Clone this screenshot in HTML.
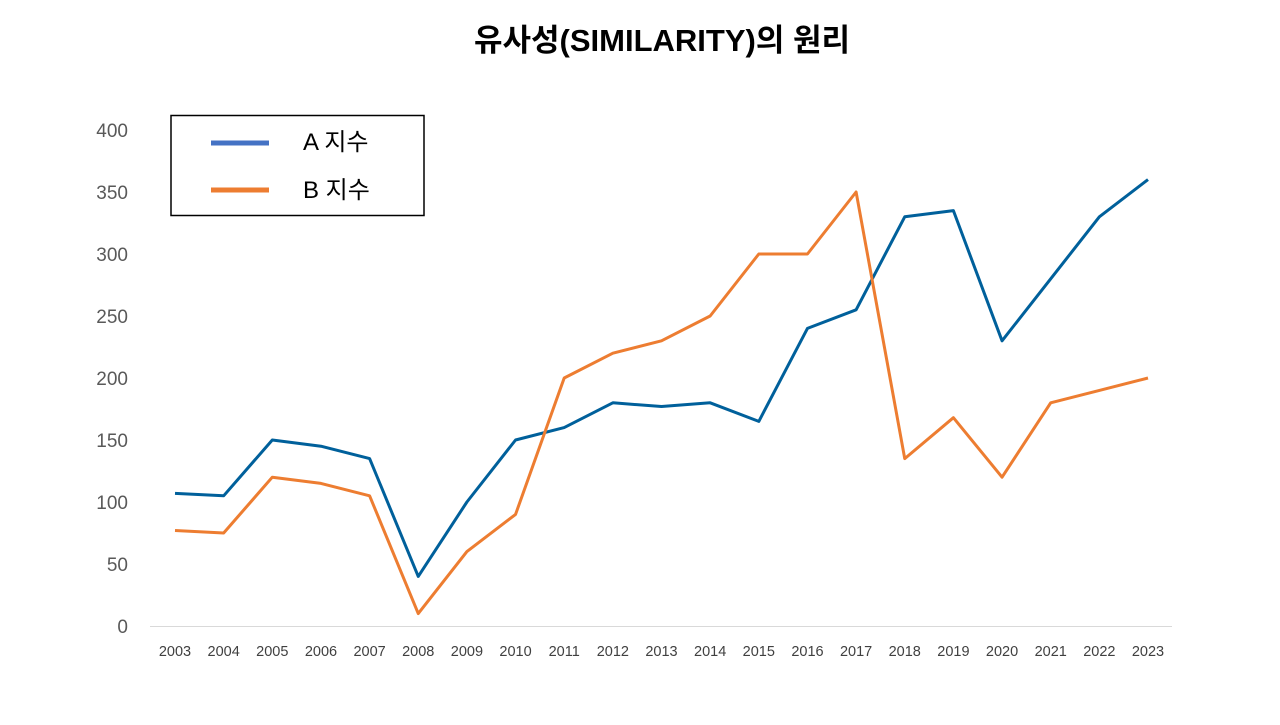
<!DOCTYPE html>
<html><head><meta charset="utf-8"><style>
body{margin:0;background:#fff;width:1280px;height:720px;overflow:hidden;font-family:"Liberation Sans","Noto Sans CJK KR",sans-serif}
</style></head><body>
<svg width="1280" height="720" xmlns="http://www.w3.org/2000/svg">
<text x="662" y="51" text-anchor="middle" font-size="31" font-weight="bold" font-family="'Liberation Sans','Noto Sans CJK KR',sans-serif" fill="#000">유사성(SIMILARITY)의 원리</text>
<g id="yax"></g><g id="xax"></g>
<line x1="150" y1="626.5" x2="1172" y2="626.5" stroke="#d9d9d9" stroke-width="1"/>
<g id="series"></g>
<g>
<rect x="171" y="115.5" width="253" height="100" fill="#fff" stroke="#000" stroke-width="1.5"/>
<line x1="211" y1="143" x2="269" y2="143" stroke="#4472C4" stroke-width="5"/>
<text x="303" y="150" font-size="24" font-family="'Liberation Sans','Noto Sans CJK KR',sans-serif">A 지수</text>
<line x1="211" y1="190" x2="269" y2="190" stroke="#ED7D31" stroke-width="5"/>
<text x="303" y="198" font-size="24" font-family="'Liberation Sans','Noto Sans CJK KR',sans-serif">B 지수</text>
</g>
</svg>
<script>
const years=[2003,2004,2005,2006,2007,2008,2009,2010,2011,2012,2013,2014,2015,2016,2017,2018,2019,2020,2021,2022,2023];
const seriesA=[107,105,150,145,135,40,100,150,160,180,177,180,165,240,255,330,335,230,280,330,360];
const seriesB=[77,75,120,115,105,10,60,90,200,220,230,250,300,300,350,135,168,120,180,190,200];
const yTicks=[0,50,100,150,200,250,300,350,400];
const NS="http://www.w3.org/2000/svg";
const y=v=>626-v*1.24;
const x=i=>175+i*(1148-175)/(years.length-1);
const yax=document.getElementById('yax');
yTicks.forEach(t=>{const e=document.createElementNS(NS,'text');


e.setAttribute('x',128);e.setAttribute('y',y(t)+7);e.setAttribute('text-anchor','end');e.setAttribute('font-size','19');e.setAttribute('fill','#595959');e.textContent=t;yax.appendChild(e);});
const xax=document.getElementById('xax');
years.forEach((yr,i)=>{const e=document.createElementNS(NS,'text');


e.setAttribute('x',x(i));e.setAttribute('y',656);e.setAttribute('text-anchor','middle');e.setAttribute('font-size','14.5');e.setAttribute('fill','#404040');e.textContent=yr;xax.appendChild(e);});
const sg=document.getElementById('series');
function line(vals,col,name){const p=document.createElementNS(NS,'polyline');


p.setAttribute('points',vals.map((v,i)=>x(i)+','+y(v)).join(' '));p.setAttribute('fill','none');p.setAttribute('stroke',col);p.setAttribute('stroke-width','3');p.setAttribute('stroke-linejoin','round');sg.appendChild(p);}
line(seriesA,'#00609B','series-a-line');
line(seriesB,'#ED7D31','series-b-line');
</script>
</body></html>
